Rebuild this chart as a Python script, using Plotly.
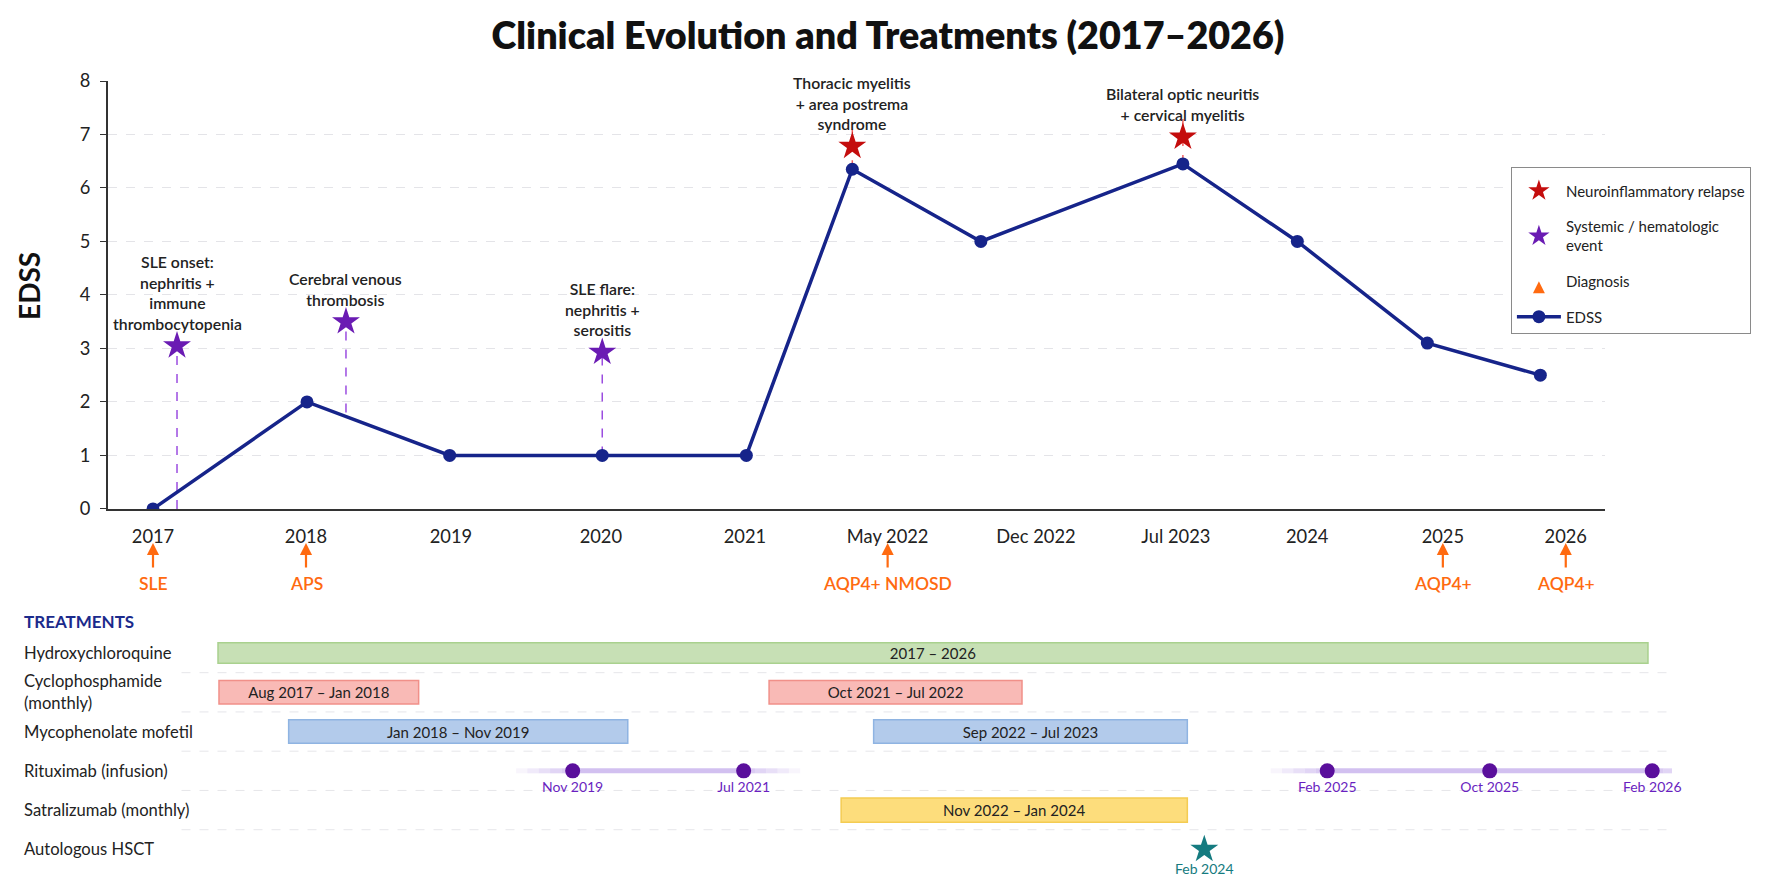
import numpy as np
import plotly.graph_objects as go

# ---- data (x values are positions on the chart's uneven timeline, 2017 tick = 0) ----
tick_labels = ["2017", "2018", "2019", "2020", "2021", "May 2022", "Dec 2022",
               "Jul 2023", "2024", "2025", "2026"]
tick_pos = [0.0, 1.083, 2.109, 3.17, 4.19, 5.2, 6.25, 7.24, 8.17, 9.13, 10.0]

edss_pos = [0.0, 1.09, 2.10, 3.18, 4.20, 4.95, 5.86, 7.29, 8.10, 9.02, 9.82]
edss_val = [0, 2, 1, 1, 1, 6.35, 5, 6.45, 5, 3.1, 2.5]

systemic_text = ["SLE onset:<br>nephritis +<br>immune<br>thrombocytopenia",
                 "Cerebral venous<br>thrombosis",
                 "SLE flare:<br>nephritis +<br>serositis"]
systemic_pos = [0.17, 1.366, 3.18]
systemic_val = [3.05, 3.5, 2.93]
systemic_base = [0, 1.8, 1.0]

relapse_text = ["Thoracic myelitis<br>+ area postrema<br>syndrome",
                "Bilateral optic neuritis<br>+ cervical myelitis"]
relapse_pos = [4.95, 7.29]
relapse_val = [6.78, 6.95]
relapse_base = [6.35, 6.45]
relapse_top = [7.1, 7.3]

diag_text = ["SLE", "APS", "AQP4+ NMOSD", "AQP4+", "AQP4+"]
diag_pos = [0.0, 1.083, 5.2, 9.13, 10.0]

treatments = ["Hydroxychloroquine", "Cyclophosphamide<br>(monthly)", "Mycophenolate mofetil",
              "Rituximab (infusion)", "Satralizumab (monthly)", "Autologous HSCT"]

bar_drug = ["Hydroxychloroquine", "Cyclophosphamide<br>(monthly)", "Cyclophosphamide<br>(monthly)",
            "Mycophenolate mofetil", "Mycophenolate mofetil", "Satralizumab (monthly)"]
bar_start = [0.46, 0.467, 4.36, 0.96, 5.10, 4.87]
bar_end = [10.58, 1.88, 6.15, 3.36, 7.32, 7.32]
bar_text = ["2017 – 2026", "Aug 2017 – Jan 2018", "Oct 2021 – Jul 2022",
            "Jan 2018 – Nov 2019", "Sep 2022 – Jul 2023", "Nov 2022 – Jan 2024"]

ritux_pos = [2.97, 4.18, 8.31, 9.46, 10.61]
ritux_text = ["Nov 2019", "Jul 2021", "Feb 2025", "Oct 2025", "Feb 2026"]
ritux_course = [0, 0, 1, 1, 1]

hsct_pos = [7.44]
hsct_text = ["Feb 2024"]

# ---- styles ----
FONT = "Lato"
NAVY = "#16248A"
PURPLE = "#6A1BB3"
RED = "#C40D0D"
ORANGE = "#FF6A10"
RITUX = "#5A0F9C"
TEAL = "#157B80"
bar_style = {
    "Hydroxychloroquine": ("#C7E0B5", "#A9D18E", 0.52),
    "Cyclophosphamide<br>(monthly)": ("#F9BAB6", "#F19089", 0.6),
    "Mycophenolate mofetil": ("#B3CBEB", "#8FB4E2", 0.6),
    "Satralizumab (monthly)": ("#FDDD7C", "#F4CC52", 0.62),
}

fig = go.Figure()


def stems(pos, lo, hi):
    xs, ys = [], []
    for p, a, b in zip(pos, lo, hi):
        xs += [p, p, None]
        ys += [a, b, None]
    return xs, ys


# dashed connectors
sx, sy = stems(systemic_pos, systemic_base, systemic_val)
fig.add_trace(go.Scatter(x=sx, y=sy, mode="lines", showlegend=False, hoverinfo="skip",
                         line=dict(color="#9B4DE0", width=1.5, dash="dash")))
rx, ry = stems(relapse_pos, relapse_base, relapse_top)
fig.add_trace(go.Scatter(x=rx, y=ry, mode="lines", showlegend=False, hoverinfo="skip",
                         line=dict(color="#F06060", width=1.5, dash="dash")))

# event stars (added in legend order)
fig.add_trace(go.Scatter(x=relapse_pos, y=relapse_val, mode="markers",
                         name="Neuroinflammatory relapse", legendgroup="a",
                         marker=dict(symbol="star", color=RED, size=21)))
fig.add_trace(go.Scatter(x=systemic_pos, y=systemic_val, mode="markers",
                         name="Systemic / hematologic<br>event", legendgroup="b",
                         marker=dict(symbol="star", color=PURPLE, size=21)))
fig.add_trace(go.Scatter(x=[None], y=[None], mode="markers", name="Diagnosis",
                         legendgroup="c",
                         marker=dict(symbol="arrow-up", color=ORANGE, size=12)))

# EDSS line
fig.add_trace(go.Scatter(x=edss_pos, y=edss_val, mode="lines+markers", name="EDSS",
                         legendgroup="d",
                         line=dict(color=NAVY, width=3.5),
                         marker=dict(color=NAVY, size=13)))

# treatment bars
for drug, a, b, t in zip(bar_drug, bar_start, bar_end, bar_text):
    fill, edge, w = bar_style[drug]
    fig.add_trace(go.Bar(x=[b - a], base=[a], y=[treatments.index(drug)], orientation="h",
                         width=w, text=[t], textposition="inside", insidetextanchor="middle",
                         constraintext="none", textangle=0,
                         textfont=dict(family=FONT, size=15, color="#222"),
                         marker=dict(color=fill, line=dict(color=edge, width=1.5)),
                         xaxis="x2", yaxis="y2", showlegend=False, hoverinfo="skip"))

# rituximab courses: faint connecting line with fading tails
ritux_row = treatments.index("Rituximab (infusion)")
for c in sorted(set(ritux_course)):
    pts = [p for p, k in zip(ritux_pos, ritux_course) if k == c]
    lo, hi = min(pts), max(pts)
    fig.add_trace(go.Scatter(x=[lo, hi], y=[ritux_row] * 2, mode="lines", xaxis="x2", yaxis="y2",
                             line=dict(color="rgba(205,185,238,0.9)", width=5),
                             showlegend=False, hoverinfo="skip"))
    for i in range(5):
        alpha = 0.75 - i * 0.15
        for s in (-1, 1):
            end = lo if s < 0 else hi
            fig.add_trace(go.Scatter(x=[end + s * 0.08 * i, end + s * 0.08 * (i + 1)],
                                     y=[ritux_row] * 2, mode="lines", xaxis="x2", yaxis="y2",
                                     line=dict(color=f"rgba(205,185,238,{alpha:.2f})", width=5),
                                     showlegend=False, hoverinfo="skip"))
fig.add_trace(go.Scatter(x=ritux_pos, y=[ritux_row] * len(ritux_pos), mode="markers+text",
                         text=ritux_text, textposition="bottom center",
                         textfont=dict(family=FONT, size=14, color="#6A1FC0"),
                         marker=dict(color=RITUX, size=15), cliponaxis=False,
                         xaxis="x2", yaxis="y2", showlegend=False, hoverinfo="skip"))

hsct_row = treatments.index("Autologous HSCT")
fig.add_trace(go.Scatter(x=hsct_pos, y=[hsct_row] * len(hsct_pos), mode="markers+text",
                         text=hsct_text, textposition="bottom center",
                         textfont=dict(family=FONT, size=14, color=TEAL),
                         marker=dict(symbol="star", color=TEAL, size=21), cliponaxis=False,
                         xaxis="x2", yaxis="y2", showlegend=False, hoverinfo="skip"))

# ---- annotations ----
ann = []
for p, v, t in zip(systemic_pos + relapse_pos, systemic_val + relapse_val,
                   systemic_text + relapse_text):
    ann.append(dict(x=p, y=v, xref="x", yref="y", text=t, showarrow=False,
                    yanchor="bottom", yshift=11,
                    font=dict(family=FONT, size=15.8, color="#222", weight=600)))

for p, t in zip(diag_pos, diag_text):
    ann.append(dict(x=p, y=0.4137, xref="x", yref="paper", text="", showarrow=True,
                    ax=0, ay=26, arrowhead=2, arrowsize=1.1, arrowwidth=2.2,
                    arrowcolor=ORANGE, standoff=0, startstandoff=0))
    ann.append(dict(x=p, y=0.3617, xref="x", yref="paper", text=t, showarrow=False,
                    yanchor="middle", font=dict(family=FONT, size=17.5, color=ORANGE, weight=600)))

ann.append(dict(x=-0.0505, y=0.740, xref="paper", yref="paper", text="EDSS", showarrow=False,
                textangle=-90, xanchor="center", yanchor="middle",
                font=dict(family=FONT, size=28, color="#111", weight="bold")))
ann.append(dict(x=-0.055, y=0.3135, xref="paper", yref="paper", text="TREATMENTS",
                showarrow=False, xanchor="left", yanchor="middle",
                font=dict(family=FONT, size=17, color="#1B2A8C", weight="bold")))
for i, t in enumerate(treatments):
    ann.append(dict(x=-0.055, y=i, xref="paper", yref="y2", text=t, showarrow=False,
                    xanchor="left", yanchor="middle", align="left",
                    font=dict(family=FONT, size=16.6, color="#222")))

# dashed row separators in the treatment panel
shapes = []
for i in range(len(treatments) - 1):
    shapes.append(dict(type="line", xref="x2 domain", yref="y2", x0=0.047, x1=1.0,
                       y0=i + 0.5, y1=i + 0.5, layer="below",
                       line=dict(color="#E6E6EA", width=1, dash="dash")))

# the page body adds an 8px offset, so margins are shifted to compensate
fig.update_layout(
    width=1772,
    height=884,
    paper_bgcolor="white",
    plot_bgcolor="white",
    margin=dict(l=100, r=108, t=73, b=23),
    font=dict(family=FONT, color="#222"),
    title=dict(text="Clinical Evolution and Treatments (2017–2026)",
               x=880 / 1772, xref="container", xanchor="center",
               y=1 - 28 / 884, yref="container", yanchor="middle",
               font=dict(family=FONT, size=37.7, color="#111", weight=800)),
    xaxis=dict(domain=[0, 0.957], range=[-0.3185, 10.276], tickvals=tick_pos,
               ticktext=tick_labels, showgrid=False, zeroline=False,
               showline=True, linecolor="#333", linewidth=2, ticks="",
               ticklabelstandoff=10, tickfont=dict(size=18.3, color="#222")),
    yaxis=dict(domain=[0.457, 1.0], range=[0, 8], dtick=1, showgrid=True,
               gridcolor="#E4E4E8", griddash="dash", zeroline=False,
               showline=True, linecolor="#333", linewidth=2, ticks="outside",
               ticklen=6, tickcolor="#333", ticklabelstandoff=6,
               tickfont=dict(size=18.3, color="#222")),
    xaxis2=dict(domain=[0, 1], range=[-0.3185, 10.750], visible=False, anchor="y2"),
    yaxis2=dict(domain=[0, 0.299], range=[5.5, -0.5], visible=False, anchor="x2"),
    barmode="overlay",
    showlegend=True,
    legend=dict(x=0.897, y=0.891, xanchor="left", yanchor="top",
                bgcolor="white", bordercolor="#8A8A8A", borderwidth=1,
                font=dict(family=FONT, size=15, color="#222"),
                title=dict(text=" ", font=dict(size=5)),
                itemwidth=44, tracegroupgap=13, traceorder="grouped"),
    annotations=ann,
    shapes=shapes,
)

fig.write_html("out.html")
